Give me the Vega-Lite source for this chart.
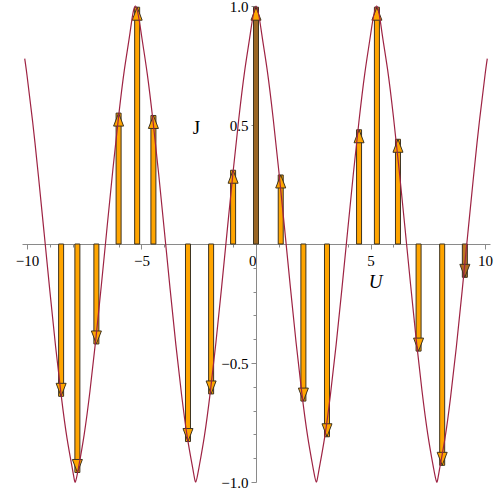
{
  "$schema": "https://vega.github.io/schema/vega-lite/v6.json",
  "width": 468,
  "height": 476,
  "autosize": {"type": "none"},
  "padding": {"left": 22, "top": 6, "right": 9, "bottom": 8},
  "background": "white",
  "config": {
    "view": {"stroke": null},
    "axis": {"labelFont": "Liberation Serif", "titleFont": "Liberation Serif", "grid": false}
  },
  "datasets": {
    "curve": [
      {"U": -10.1, "J": 0.7787}, {"U": -10, "J": 0.7091}, {"U": -9.75, "J": 0.5103}, {"U": -9.5, "J": 0.2848},
      {"U": -9.25, "J": 0.044}, {"U": -9, "J": -0.1993}, {"U": -8.75, "J": -0.4317}, {"U": -8.5, "J": -0.6412},
      {"U": -8.25, "J": -0.8177}, {"U": -8, "J": -0.9541}, {"U": -7.89, "J": -1}, {"U": -7.75, "J": -0.9399},
      {"U": -7.5, "J": -0.7985}, {"U": -7.25, "J": -0.6175}, {"U": -7, "J": -0.4047}, {"U": -6.75, "J": -0.1704},
      {"U": -6.5, "J": 0.0733}, {"U": -6.25, "J": 0.3129}, {"U": -6, "J": 0.5357}, {"U": -5.75, "J": 0.7306},
      {"U": -5.5, "J": 0.8884}, {"U": -5.26, "J": 1}, {"U": -5, "J": 0.8772}, {"U": -4.75, "J": 0.7162},
      {"U": -4.5, "J": 0.5187}, {"U": -4.25, "J": 0.2941}, {"U": -4, "J": 0.0537}, {"U": -3.75, "J": -0.1896},
      {"U": -3.5, "J": -0.4227}, {"U": -3.25, "J": -0.6333}, {"U": -3, "J": -0.8113}, {"U": -2.75, "J": -0.9493},
      {"U": -2.63, "J": -1}, {"U": -2.5, "J": -0.9446}, {"U": -2.25, "J": -0.8049}, {"U": -2, "J": -0.6254},
      {"U": -1.75, "J": -0.4137}, {"U": -1.5, "J": -0.18}, {"U": -1.25, "J": 0.0635}, {"U": -1, "J": 0.3035},
      {"U": -0.75, "J": 0.5272}, {"U": -0.5, "J": 0.7234}, {"U": -0.25, "J": 0.8828},
      {"U": 0, "J": 1},
      {"U": 0.25, "J": 0.8828}, {"U": 0.5, "J": 0.7234}, {"U": 0.75, "J": 0.5272}, {"U": 1, "J": 0.3035},
      {"U": 1.25, "J": 0.0635}, {"U": 1.5, "J": -0.18}, {"U": 1.75, "J": -0.4137}, {"U": 2, "J": -0.6254},
      {"U": 2.25, "J": -0.8049}, {"U": 2.5, "J": -0.9446}, {"U": 2.63, "J": -1}, {"U": 2.75, "J": -0.9493},
      {"U": 3, "J": -0.8113}, {"U": 3.25, "J": -0.6333}, {"U": 3.5, "J": -0.4227}, {"U": 3.75, "J": -0.1896},
      {"U": 4, "J": 0.0537}, {"U": 4.25, "J": 0.2941}, {"U": 4.5, "J": 0.5187}, {"U": 4.75, "J": 0.7162},
      {"U": 5, "J": 0.8772}, {"U": 5.26, "J": 1}, {"U": 5.5, "J": 0.8884}, {"U": 5.75, "J": 0.7306},
      {"U": 6, "J": 0.5357}, {"U": 6.25, "J": 0.3129}, {"U": 6.5, "J": 0.0733}, {"U": 6.75, "J": -0.1704},
      {"U": 7, "J": -0.4047}, {"U": 7.25, "J": -0.6175}, {"U": 7.5, "J": -0.7985}, {"U": 7.75, "J": -0.9399},
      {"U": 7.89, "J": -1}, {"U": 8, "J": -0.9541}, {"U": 8.25, "J": -0.8177}, {"U": 8.5, "J": -0.6412},
      {"U": 8.75, "J": -0.4317}, {"U": 9, "J": -0.1993}, {"U": 9.25, "J": 0.044}, {"U": 9.5, "J": 0.2848},
      {"U": 9.75, "J": 0.5103}, {"U": 10, "J": 0.7091}, {"U": 10.1, "J": 0.7787}
    ],
    "arrows": [
      {"U": -8.51, "J": -0.64}, {"U": -7.8, "J": -0.96}, {"U": -6.97, "J": -0.42}, {"U": -6.0, "J": 0.55},
      {"U": -5.19, "J": 0.995}, {"U": -4.48, "J": 0.54}, {"U": -2.97, "J": -0.83}, {"U": -1.96, "J": -0.63},
      {"U": -1.0, "J": 0.31}, {"U": 0, "J": 0.995}, {"U": 1.08, "J": 0.29}, {"U": 2.07, "J": -0.66},
      {"U": 3.1, "J": -0.81}, {"U": 4.5, "J": 0.48}, {"U": 5.28, "J": 0.995}, {"U": 6.2, "J": 0.44},
      {"U": 7.1, "J": -0.45}, {"U": 8.13, "J": -0.93}, {"U": 9.12, "J": -0.14}
    ]
  },
  "resolve": {"axis": {"x": "independent", "y": "independent"}},
  "layer": [
    {
      "data": {"name": "arrows"},
      "mark": {"type": "bar", "size": 5, "stroke": "#3d3320", "strokeWidth": 1},
      "encoding": {
        "x": {
          "field": "U", "type": "quantitative",
          "scale": {"domain": [-10, 10], "nice": false, "zero": false},
          "axis": {
            "orient": "bottom", "offset": -238,
            "values": [-9, -8, -7, -6, -4, -3, -2, -1, 1, 2, 3, 4, 6, 7, 8, 9],
            "labels": false, "domain": false, "tickSize": 3, "tickColor": "#8a8a8a", "title": null
          }
        },
        "y": {
          "field": "J", "type": "quantitative",
          "scale": {"domain": [-1, 1], "nice": false},
          "axis": {
            "orient": "left", "offset": -234,
            "values": [-0.9, -0.8, -0.7, -0.6, -0.4, -0.3, -0.2, -0.1, 0.1, 0.2, 0.3, 0.4, 0.6, 0.7, 0.8, 0.9],
            "labels": false, "domain": false, "tickSize": 3, "tickColor": "#8a8a8a", "title": null
          }
        },
        "y2": {"datum": 0},
        "fill": {
          "condition": [
            {"test": "datum.U === 0", "value": "#9A6624"},
            {"test": "datum.U > 9", "value": "#BB7720"}
          ],
          "value": "#FFA500"
        }
      }
    },
    {
      "data": {"name": "arrows"},
      "mark": {"type": "point", "filled": true, "size": 100, "stroke": "#3d3320", "strokeWidth": 1, "opacity": 1},
      "encoding": {
        "x": {"field": "U", "type": "quantitative", "axis": null},
        "y": {"field": "J", "type": "quantitative", "axis": null},
        "shape": {
          "condition": {"test": "datum.J > 0", "value": "M0,0L-1,2.6L1,2.6Z"},
          "value": "M0,0L-1,-2.6L1,-2.6Z"
        },
        "fill": {
          "condition": {"test": "datum.U > 9", "value": "#B06A1E"},
          "value": "#FFA500"
        }
      }
    },
    {
      "data": {"name": "curve"},
      "mark": {"type": "line", "interpolate": "natural", "color": "#9E2343", "strokeWidth": 1.2, "clip": false},
      "encoding": {
        "x": {
          "field": "U", "type": "quantitative",
          "axis": {
            "orient": "bottom", "offset": -238,
            "values": [-10, -5, 0, 5, 10],
            "domainColor": "#8a8a8a", "tickColor": "#8a8a8a", "tickSize": 5,
            "labelFontSize": 15, "labelColor": "black", "labelPadding": 4,
            "labelAlign": {"expr": "datum.value === 0 ? 'right' : 'center'"},
            "labelFlush": false, "labelOverlap": false,
            "title": "U", "titleFontStyle": "italic", "titleFontWeight": "normal", "titleFontSize": 19,
            "titleColor": "black", "titleX": 353, "titleY": 37, "titleAngle": 0,
            "titleBaseline": "middle", "titleAlign": "center"
          }
        },
        "y": {
          "field": "J", "type": "quantitative",
          "axis": {
            "orient": "left", "offset": -234,
            "values": [-1, -0.5, 0.5, 1],
            "domainColor": "#8a8a8a", "tickColor": "#8a8a8a", "tickSize": 5,
            "labelFontSize": 15, "labelColor": "black", "labelPadding": 3,
            "labelFlush": false, "labelOverlap": false,
            "title": "J", "titleFontWeight": "normal", "titleFontSize": 19, "titleColor": "black",
            "titleX": -60, "titleY": 121, "titleAngle": 0,
            "titleBaseline": "middle", "titleAlign": "center"
          }
        }
      }
    }
  ]
}
